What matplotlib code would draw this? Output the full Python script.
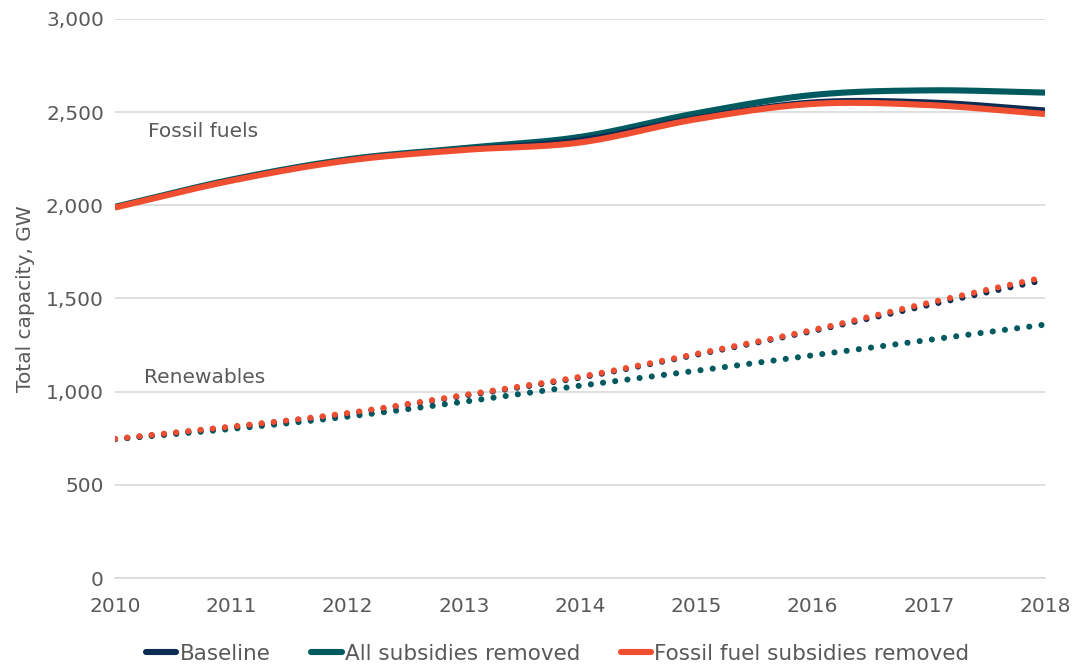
import numpy as np
import matplotlib
matplotlib.use('Agg')
import matplotlib.pyplot as plt
from matplotlib.ticker import FuncFormatter
from matplotlib.lines import Line2D

plt.rcParams['font.family'] = ['DejaVu Sans']

years = [2010, 2011, 2012, 2013, 2014, 2015, 2016, 2017, 2018]

# fossil fuel capacity, GW
fossil_baseline = [1990, 2135, 2243, 2300, 2352, 2470, 2555, 2555, 2512]
fossil_all      = [1992, 2138, 2247, 2307, 2367, 2494, 2592, 2617, 2605]
fossil_ff       = [1988, 2132, 2240, 2297, 2337, 2462, 2544, 2538, 2490]

# renewables capacity, GW
renew_baseline = [745, 810, 882, 978, 1075, 1198, 1325, 1465, 1600]
renew_all      = [745, 800, 866, 946, 1032, 1112, 1195, 1278, 1360]
renew_ff       = [747, 812, 885, 982, 1080, 1203, 1331, 1477, 1615]

C_BASE = '#0c2c54'
C_ALL = '#005a5f'
C_FF = '#f04e30'
C_TXT = '#595959'


def smooth(x, y, n=30):
    """Catmull-Rom curve through the points (like Excel's smoothed line)."""
    x = np.asarray(x, float)
    y = np.asarray(y, float)
    px = np.concatenate([[2 * x[0] - x[1]], x, [2 * x[-1] - x[-2]]])
    py = np.concatenate([[2 * y[0] - y[1]], y, [2 * y[-1] - y[-2]]])
    xs, ys = [], []
    t = np.linspace(0, 1, n, endpoint=False)
    for i in range(1, len(px) - 2):
        p0, p1, p2, p3 = py[i - 1], py[i], py[i + 1], py[i + 2]
        ys.append(0.5 * (2 * p1 + (-p0 + p2) * t + (2 * p0 - 5 * p1 + 4 * p2 - p3) * t ** 2
                         + (-p0 + 3 * p1 - 3 * p2 + p3) * t ** 3))
        xs.append(px[i] + (px[i + 1] - px[i]) * t)
    xs.append([x[-1]])
    ys.append([y[-1]])
    return np.concatenate(xs), np.concatenate(ys)


fig = plt.figure(figsize=(10.77, 6.68), dpi=100)
ax = fig.add_axes([0.1068, 0.1347, 0.8635, 0.8369])

ax.plot(*smooth(years, fossil_baseline), color=C_BASE, lw=3.6, solid_capstyle='butt', zorder=3)
ax.plot(*smooth(years, fossil_all), color=C_ALL, lw=4.4, solid_capstyle='butt', zorder=2)
ax.plot(*smooth(years, fossil_ff), color=C_FF, lw=4.4, solid_capstyle='butt', zorder=4)

dots = (0, (0.01, 2.0))
ax.plot(*smooth(years, renew_all), color=C_ALL, lw=4.4, ls=dots, dash_capstyle='round', zorder=2)
ax.plot(*smooth(years, renew_baseline), color=C_BASE, lw=4.4, ls=dots, dash_capstyle='round', zorder=3)
ax.plot(*smooth(years, renew_ff), color=C_FF, lw=4.4, ls=dots, dash_capstyle='round', zorder=4)

ax.set_xlim(2010, 2018)
ax.set_ylim(0, 3000)
ax.set_xticks(years)
ax.set_yticks(range(0, 3001, 500))
ax.yaxis.set_major_formatter(FuncFormatter(lambda v, p: f'{int(v):,}'))
ax.grid(axis='y', color='#d9d9d9', lw=1.2)
ax.set_axisbelow(True)
for s in ['top', 'right', 'left']:
    ax.spines[s].set_visible(False)
ax.spines['bottom'].set_color('#d9d9d9')
ax.spines['bottom'].set_linewidth(1.2)
ax.tick_params(length=0, labelsize=14.5, colors=C_TXT, pad=8)
ax.tick_params(axis='x', pad=14)
ax.set_ylabel('Total capacity, GW', fontsize=14.5, color=C_TXT, labelpad=8)

ax.text(2010.28, 2395, 'Fossil fuels', fontsize=14.5, color=C_TXT, va='center')
ax.text(2010.25, 1075, 'Renewables', fontsize=14.5, color=C_TXT, va='center')

handles = [Line2D([], [], color=C_BASE, lw=4.4, solid_capstyle='round'),
           Line2D([], [], color=C_ALL, lw=4.4, solid_capstyle='round'),
           Line2D([], [], color=C_FF, lw=4.4, solid_capstyle='round')]
fig.legend(handles, ['Baseline', 'All subsidies removed', 'Fossil fuel subsidies removed'],
           loc='center', bbox_to_anchor=(0.518, 0.021), ncol=3, frameon=False,
           fontsize=15.5, labelcolor=C_TXT, handlelength=1.4, handletextpad=0.15,
           columnspacing=1.9)

fig.savefig('out.png', dpi=100)
